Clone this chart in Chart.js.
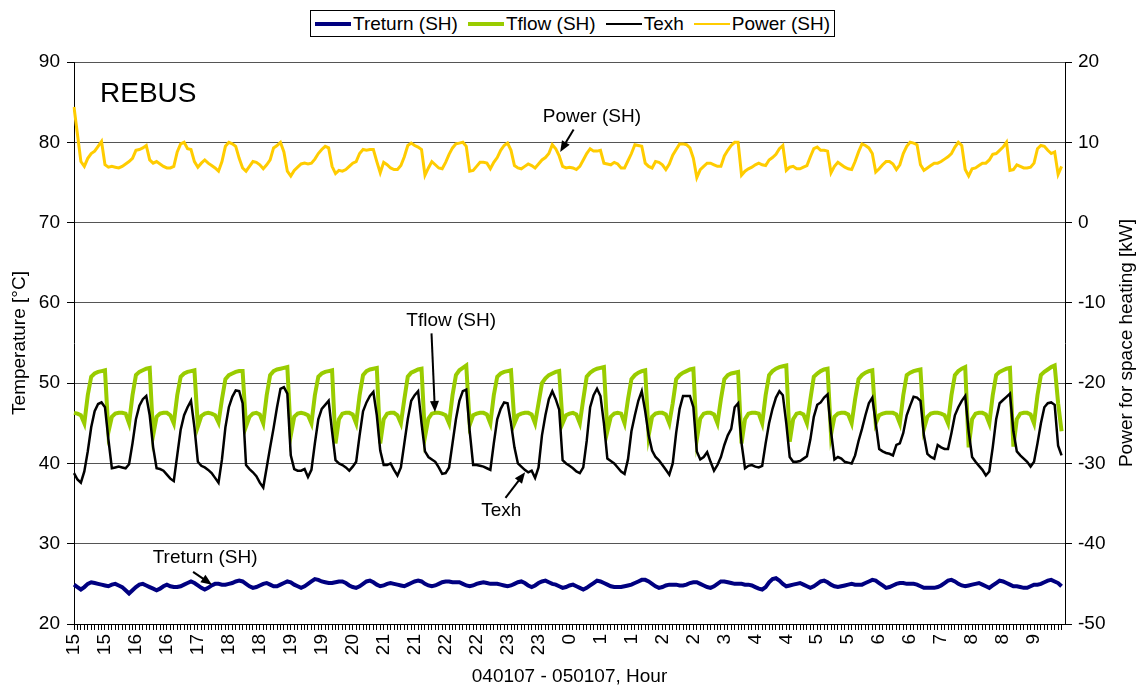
<!DOCTYPE html>
<html>
<head>
<meta charset="utf-8">
<script src="https://cdn.jsdelivr.net/npm/chart.js@4/dist/chart.umd.min.js"></script>
<style>
  body { margin:0; background:#fff; }
  #wrap { position:relative; width:1144px; height:688px; font-family:"Liberation Sans", Arial, sans-serif; }
  #legend { position:absolute; left:310px; top:10px; width:515px; height:25px; border:1px solid #000; background:#fff;
    display:flex; align-items:center; justify-content:space-between; padding:0 4px; box-sizing:content-box; font-size:19px; color:#000; }
  #legend .item { display:flex; align-items:center; white-space:nowrap; }
  #legend .swatch { width:36px; margin-right:2px; }
</style>
</head>
<body>
<div id="wrap">
  <canvas id="chart" width="1144" height="688"></canvas>
  <div id="legend"></div>
</div>
<script>
// 289 readings, one every ~4 min; an hour label on every 9th reading
const hourTicks = ['15','15','16','16','17','18','18','19','19','20','21','21','22','22','23','23',
  '0','1','1','2','2','3','4','4','5','5','6','6','7','8','8','9']

// Treturn (SH), °C
const tReturn = [
  24.9,24.6,24.3,24.6,25.0,25.2,25.1,25.0,24.9,24.8,
  24.7,24.9,25.0,24.8,24.6,24.2,23.8,24.2,24.6,24.9,
  25.0,24.8,24.6,24.4,24.2,24.4,24.7,24.9,24.7,24.6,
  24.6,24.7,24.9,25.1,25.3,25.1,24.8,24.5,24.3,24.5,
  24.8,25.0,25.0,24.9,24.9,25.0,25.1,25.3,25.4,25.3,
  25.0,24.7,24.5,24.6,24.8,25.0,25.1,24.9,24.7,24.7,
  24.9,25.1,25.3,25.2,24.9,24.7,24.5,24.7,25.0,25.3,
  25.6,25.5,25.3,25.2,25.1,25.1,25.2,25.3,25.3,25.1,
  24.8,24.6,24.5,24.7,25.0,25.3,25.4,25.2,24.9,24.7,
  24.8,25.0,25.1,25.0,24.9,24.8,24.7,24.9,25.1,25.3,
  25.4,25.3,25.0,24.8,24.7,24.8,25.0,25.2,25.3,25.3,
  25.2,25.2,25.2,25.0,24.8,24.7,24.8,25.0,25.1,25.2,
  25.1,25.0,25.0,25.0,24.9,24.8,24.7,24.8,25.0,25.2,
  25.3,25.1,24.8,24.6,24.8,25.1,25.3,25.4,25.2,25.0,
  24.9,24.7,24.5,24.6,24.8,24.9,24.7,24.5,24.3,24.5,
  24.8,25.1,25.4,25.3,25.1,24.9,24.7,24.6,24.6,24.6,
  24.7,24.8,24.9,25.1,25.3,25.5,25.5,25.3,25.0,24.7,
  24.5,24.6,24.8,24.9,24.9,24.9,24.8,24.8,24.9,25.1,
  25.2,25.2,25.0,24.8,24.6,24.5,24.7,25.0,25.3,25.3,
  25.2,25.1,25.0,25.0,25.0,24.9,24.9,24.8,24.6,24.4,
  24.3,24.6,25.2,25.6,25.7,25.4,25.0,24.7,24.8,24.9,
  25.0,25.1,24.9,24.7,24.5,24.7,25.0,25.3,25.4,25.2,
  24.9,24.7,24.6,24.7,24.8,24.9,25.0,24.9,24.9,24.9,
  25.1,25.3,25.5,25.4,25.1,24.8,24.5,24.6,24.8,25.0,
  25.1,25.1,25.0,25.0,25.0,24.9,24.7,24.5,24.5,24.5,
  24.5,24.6,24.8,25.1,25.4,25.5,25.3,25.0,24.8,24.7,
  24.8,24.9,25.0,25.1,24.9,24.7,24.5,24.8,25.1,25.4,
  25.3,25.1,24.9,24.7,24.7,24.6,24.5,24.5,24.7,24.9,
  24.9,25.0,25.2,25.4,25.5,25.3,25.1,24.7,24.5
]

// Tflow (SH), °C
const tFlow = [
  46.3,46.2,46.0,45.0,48.5,50.8,51.2,51.4,51.5,51.6,
  43.9,45.8,46.2,46.3,46.3,46.2,45.0,48.5,51.0,51.4,
  51.6,51.8,51.9,43.5,45.8,46.2,46.3,46.3,46.0,45.0,
  48.5,50.8,51.2,51.4,51.5,51.6,44.6,45.9,46.2,46.3,
  46.2,46.0,45.1,48.0,50.5,51.0,51.2,51.4,51.5,51.5,
  44.6,45.8,46.2,46.3,46.1,45.0,48.5,51.0,51.5,51.7,
  51.8,51.9,52.0,43.5,45.8,46.2,46.3,46.2,46.0,45.0,
  48.5,50.8,51.2,51.4,51.5,51.6,42.5,45.5,46.2,46.3,
  46.3,46.1,45.0,48.5,51.0,51.5,51.7,51.8,51.9,42.5,
  45.5,46.2,46.3,46.3,46.0,45.0,48.0,50.8,51.3,51.5,
  51.7,51.8,43.3,45.6,46.2,46.3,46.3,46.2,46.0,45.0,
  48.5,51.0,51.6,51.9,52.2,44.8,46.0,46.2,46.3,46.3,
  46.1,45.0,48.5,50.8,51.2,51.4,51.5,51.6,45.0,46.0,
  46.2,46.3,46.3,46.1,45.0,47.5,50.0,50.6,51.0,51.2,
  51.4,51.5,45.0,46.0,46.2,46.3,46.1,45.0,48.0,50.8,
  51.3,51.6,51.8,51.9,52.0,44.0,45.8,46.2,46.3,46.2,
  45.0,48.0,50.5,51.0,51.3,51.5,51.6,43.5,45.8,46.2,
  46.3,46.3,46.1,45.0,47.5,50.5,51.0,51.3,51.5,51.7,
  51.8,43.0,45.6,46.2,46.3,46.3,46.1,45.0,48.0,50.5,
  51.0,51.2,51.3,51.4,42.5,45.5,46.2,46.3,46.3,46.2,
  45.0,48.5,51.0,51.5,51.8,52.0,52.1,52.2,42.7,45.5,
  46.2,46.3,46.1,45.0,48.0,50.8,51.2,51.5,51.7,51.8,
  43.6,45.8,46.2,46.3,46.3,46.1,45.0,48.0,50.5,51.0,
  51.3,51.5,51.6,45.0,46.0,46.2,46.3,46.3,46.3,46.1,
  45.0,48.5,51.0,51.3,51.5,51.6,51.7,44.3,45.8,46.2,
  46.3,46.3,46.2,46.0,45.0,48.5,51.0,51.5,51.8,52.0,
  42.0,45.5,46.2,46.3,46.3,46.1,45.0,48.5,51.0,51.4,
  51.6,51.8,51.9,42.1,45.5,46.2,46.3,46.3,46.1,45.0,
  48.5,51.0,51.4,51.7,52.0,52.2,47.5,44.0,45.8
]

// Texh, °C
const tExh = [
  38.8,38.0,37.6,39.0,41.5,44.5,46.5,47.4,47.6,47.0,
  43.0,39.4,39.5,39.6,39.5,39.4,39.9,42.5,45.5,47.2,
  48.0,48.4,46.0,42.0,39.4,39.3,39.1,38.6,38.1,37.8,
  41.0,44.2,46.0,47.0,47.8,44.5,40.2,39.7,39.5,39.2,
  38.8,38.2,37.6,40.5,44.5,47.0,48.3,49.1,49.0,47.5,
  39.8,39.3,38.9,38.4,37.6,37.0,39.5,42.0,44.4,47.0,
  49.3,49.5,48.7,41.0,39.3,39.1,39.1,39.3,38.3,39.2,
  42.5,45.5,46.8,47.3,47.8,44.0,40.4,40.0,39.8,39.5,
  39.1,39.6,40.2,43.5,46.5,47.6,48.4,48.9,46.0,41.6,
  39.8,39.8,40.0,39.2,38.5,39.5,42.5,45.5,47.8,48.5,
  49.0,45.0,41.5,40.8,40.5,40.2,39.5,38.7,38.8,39.5,
  42.5,45.5,47.8,49.0,49.2,44.0,39.8,39.8,39.7,39.6,
  39.4,39.2,42.5,45.5,46.8,47.6,47.5,45.0,42.0,40.0,
  39.6,39.2,38.9,39.1,38.2,39.5,43.5,46.0,48.0,49.0,
  48.0,46.7,40.4,40.0,39.7,39.4,39.0,38.8,39.5,42.8,
  47.0,48.5,49.3,48.4,45.0,40.6,40.3,40.0,39.5,39.0,
  38.7,40.5,44.0,46.0,47.8,49.0,46.5,43.5,41.6,40.8,
  40.4,39.8,39.2,38.6,40.0,43.8,46.8,48.4,48.4,48.4,
  47.0,41.5,40.5,40.8,41.4,40.2,39.1,39.8,40.8,42.3,
  43.5,44.3,47.0,47.5,42.5,39.4,39.7,39.8,39.6,39.5,
  39.7,42.5,45.0,46.8,48.2,49.0,48.5,45.0,40.8,40.2,
  40.2,40.3,40.6,40.9,43.0,45.8,47.3,47.6,48.2,48.6,
  44.0,40.5,40.8,40.6,40.2,40.1,40.0,41.0,42.8,44.3,
  46.0,47.5,48.2,45.0,41.8,41.5,41.3,41.2,41.0,42.3,
  42.5,43.8,46.0,47.2,48.3,48.2,47.8,43.5,41.2,40.8,
  40.6,42.3,42.0,41.8,41.8,43.8,46.0,47.0,47.8,48.4,
  44.0,40.8,40.2,39.7,39.2,38.5,39.0,42.0,45.5,47.5,
  47.9,48.3,48.7,44.0,41.5,41.0,40.6,40.2,39.6,40.2,
  42.5,45.0,47.0,47.5,47.6,47.3,42.2,41.0,40.6
]

// Power (SH), kW (right axis)
const powerSH = [
  14.4,11.0,7.6,7.0,8.0,8.6,8.9,9.5,10.1,7.2,
  6.9,7.0,6.9,6.8,7.0,7.3,7.6,8.0,9.0,9.1,
  9.3,9.6,7.8,7.4,7.6,7.3,7.0,6.8,6.8,7.0,
  8.8,9.8,10.0,9.2,9.1,7.6,6.9,7.4,7.8,7.4,
  7.1,6.8,6.4,7.6,9.5,10.0,9.8,9.5,8.0,6.8,
  6.4,7.0,7.6,7.5,7.2,6.7,7.2,7.8,9.3,9.6,
  10.0,8.8,6.4,5.8,6.5,6.9,7.3,7.4,7.3,7.4,
  7.9,8.6,9.1,9.5,9.3,7.0,6.1,6.5,6.4,6.6,
  7.0,7.4,7.6,8.6,9.1,9.0,9.1,9.1,7.6,6.2,
  7.5,7.2,6.8,6.6,6.6,7.1,8.2,9.6,9.9,9.6,
  9.4,9.1,5.9,6.8,7.6,7.2,6.8,6.7,7.5,8.5,
  9.3,9.8,9.9,10.0,9.5,6.4,6.5,7.0,7.5,7.5,
  7.4,6.7,7.5,8.1,9.0,9.6,9.9,9.0,7.1,6.8,
  6.7,7.0,7.3,7.1,6.8,7.3,7.8,8.1,8.6,9.7,
  9.2,8.3,7.0,6.8,6.9,6.8,6.6,7.0,7.8,8.6,
  9.2,8.9,8.9,9.0,7.4,7.3,7.2,7.5,7.3,6.8,
  6.8,7.7,8.6,9.7,9.6,9.5,7.4,7.0,6.8,7.6,
  7.5,7.2,6.6,7.3,8.4,9.1,9.8,9.8,9.7,9.3,
  8.0,5.6,6.6,7.0,7.4,7.4,7.2,7.0,7.0,8.3,
  9.0,9.6,10.0,10.0,5.9,6.4,6.7,6.9,7.2,7.4,
  7.2,7.1,7.8,8.1,8.5,9.2,9.6,6.5,6.9,7.0,
  6.7,6.7,6.9,7.1,8.2,9.2,9.4,9.0,9.0,8.9,
  6.2,7.0,7.5,7.2,6.9,6.7,6.6,7.6,8.8,9.8,
  9.6,9.3,8.6,6.3,6.7,7.2,7.6,7.6,7.3,6.6,
  7.2,8.6,9.5,10.0,9.9,9.7,7.2,6.5,6.8,7.1,
  7.4,7.4,7.6,7.9,8.2,8.6,9.4,10.0,9.6,6.6,
  5.8,6.7,6.8,7.1,7.4,7.4,7.8,8.5,8.6,9.0,
  9.4,10.0,6.5,6.6,7.2,7.0,6.8,6.8,6.9,7.4,
  9.2,9.6,9.5,9.0,8.6,8.8,6.0,7.0,7.6
]

const labels = tFlow.map((_, i) => i % 9 === 0 ? hourTicks[i / 9] : '')

const FONT = '"Liberation Sans", Arial, sans-serif'
Chart.defaults.font.family = FONT
Chart.defaults.font.size = 19
Chart.defaults.color = '#000'

const series = [
  { label:'Treturn (SH)', data:tReturn, color:'#000080', width:4, axis:'y', order:4 },
  { label:'Tflow (SH)', data:tFlow, color:'#99CC00', width:4, axis:'y', order:3 },
  { label:'Texh', data:tExh, color:'#000000', width:2.5, axis:'y', order:2 },
  { label:'Power (SH)', data:powerSH, color:'#FFCC00', width:3, axis:'y1', order:1 }
]

// text + arrow callouts, in (reading index, °C) units
const notes = [
  { text:'Power (SH)', at:[150.5, 83.2], from:[145.2, 81.6], to:[141.3, 78.8] },
  { text:'Tflow (SH)', at:[109.6, 57.8], from:[103.9, 56.2], to:[104.9, 46.4] },
  { text:'Texh', at:[124.2, 34.1], from:[125.4, 35.7], to:[131.1, 38.9] },
  { text:'Treturn (SH)', at:[38.1, 28.2], from:[34.6, 26.5], to:[40.1, 24.9] }
]

function arrow(ctx, x1, y1, x2, y2) {
  const a = Math.atan2(y2 - y1, x2 - x1), L = 11, W = 4.5
  ctx.lineWidth = 2
  ctx.beginPath(); ctx.moveTo(x1, y1); ctx.lineTo(x2 - Math.cos(a) * L * 0.7, y2 - Math.sin(a) * L * 0.7); ctx.stroke()
  ctx.beginPath(); ctx.moveTo(x2, y2)
  ctx.lineTo(x2 - L * Math.cos(a) + W * Math.sin(a), y2 - L * Math.sin(a) - W * Math.cos(a))
  ctx.lineTo(x2 - L * Math.cos(a) - W * Math.sin(a), y2 - L * Math.sin(a) + W * Math.cos(a))
  ctx.closePath(); ctx.fill()
}

const decor = {
  id:'decor',
  afterDraw(chart) {
    const { ctx, chartArea:a, scales:{ x, y } } = chart
    ctx.save()
    ctx.fillStyle = '#000'; ctx.strokeStyle = '#000'
    ctx.textAlign = 'center'; ctx.textBaseline = 'middle'
    ctx.font = '19px ' + FONT
    const midY = (a.top + a.bottom) / 2
    ;[[20, 'Temperature [°C]'], [1127, 'Power for space heating [kW]']].forEach(([cx, t]) => {
      ctx.save(); ctx.translate(cx, midY); ctx.rotate(-Math.PI / 2); ctx.fillText(t, 0, 0); ctx.restore()
    })
    notes.forEach(n => {
      ctx.fillText(n.text, x.getPixelForValue(n.at[0]), y.getPixelForValue(n.at[1]))
      arrow(ctx, x.getPixelForValue(n.from[0]), y.getPixelForValue(n.from[1]),
        x.getPixelForValue(n.to[0]), y.getPixelForValue(n.to[1]))
    })
    ctx.font = '28px ' + FONT
    ctx.textAlign = 'left'
    ctx.fillText('REBUS', a.left + 26, a.top + 32)
    ctx.restore()
  }
}

new Chart(document.getElementById('chart'), {
  type:'line',
  data:{
    labels,
    datasets:series.map(s => ({
      label:s.label, data:s.data, borderColor:s.color, backgroundColor:s.color,
      borderWidth:s.width, yAxisID:s.axis, order:s.order, pointRadius:0, tension:0, fill:false
    }))
  },
  options:{
    responsive:false, animation:false,
    layout:{ padding:{ top:62 } },
    plugins:{ legend:{ display:false }, tooltip:{ enabled:false } },
    scales:{
      x:{
        offset:false,
        grid:{ drawOnChartArea:false, drawTicks:true, tickLength:6, tickColor:'#000' },
        border:{ color:'#000' },
        ticks:{ autoSkip:false, minRotation:90, maxRotation:90, padding:4, color:'#000' },
        title:{ display:true, text:'040107 - 050107, Hour', color:'#000', padding:{ top:0, bottom:0 } },
        afterFit(s) { s.height = 64 }
      },
      y:{
        position:'left', min:20, max:90,
        ticks:{ stepSize:10, padding:7, color:'#000' },
        grid:{ color:'#555', tickColor:'#000', tickLength:7 },
        border:{ color:'#000' },
        afterFit(s) { s.width = 74 }
      },
      y1:{
        position:'right', min:-50, max:20,
        ticks:{ stepSize:10, padding:6, color:'#000' },
        grid:{ drawOnChartArea:false, tickColor:'#000', tickLength:7 },
        border:{ color:'#000' },
        afterFit(s) { s.width = 79 }
      }
    }
  },
  plugins:[decor]
})

// legend box on top, same order and styles as the datasets
document.getElementById('legend').innerHTML = series.map(s =>
  `<div class="item"><div class="swatch" style="height:${s.width >= 4 ? 4 : 2}px;background:${s.color}"></div>${s.label}</div>`
).join('')
</script>
</body>
</html>
